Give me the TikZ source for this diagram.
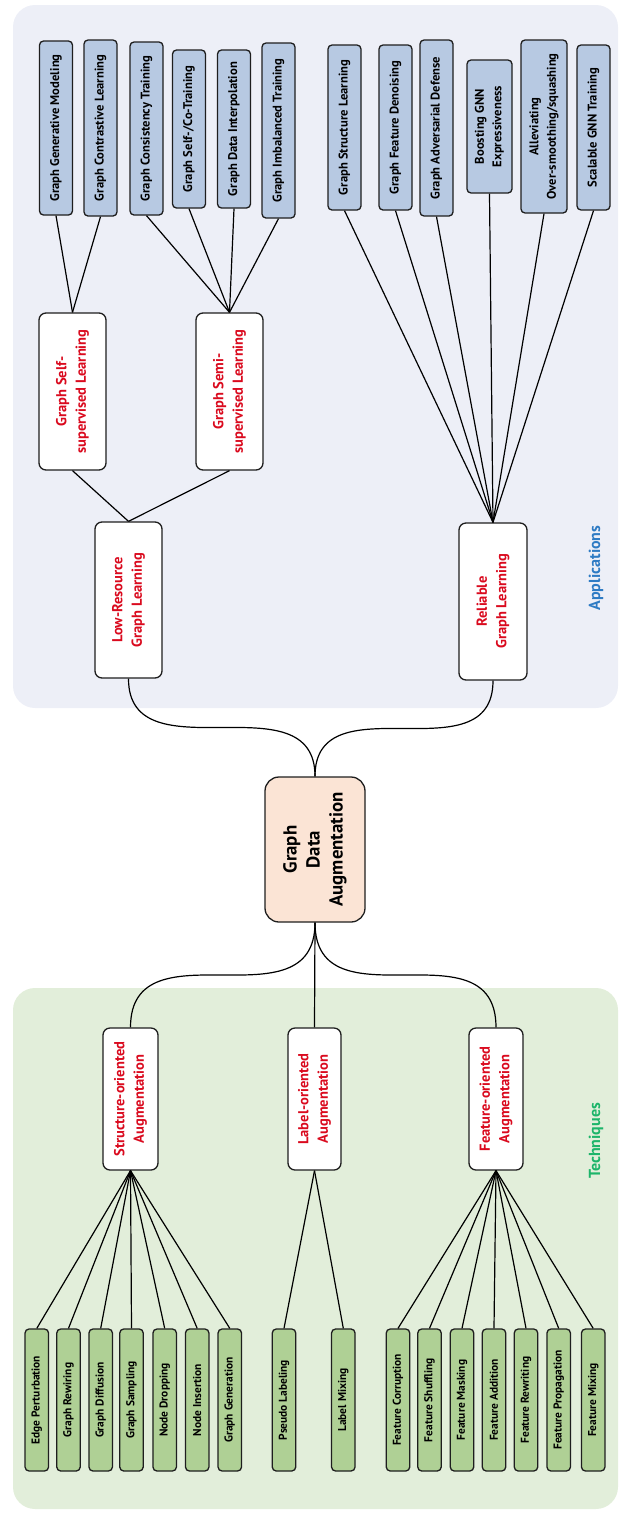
\documentclass[tikz,border=0pt]{standalone}
\usepackage{fontspec}
\setmainfont{PT Sans}
\definecolor{appbg}{HTML}{EDEFF7}
\definecolor{techbg}{HTML}{E2EEDA}
\definecolor{appfill}{HTML}{B7C9E2}
\definecolor{techfill}{HTML}{AFD095}
\definecolor{peach}{HTML}{FBE4D5}
\definecolor{midred}{HTML}{DA0A1E}
\definecolor{appblue}{HTML}{2E7BC4}
\definecolor{techgreen}{HTML}{1DB56A}
\definecolor{edge}{HTML}{1E1E1E}
\begin{document}
\begin{tikzpicture}[x=1pt,y=-1pt,
  box/.style={draw=edge, line width=1.3pt, rotate=90, align=center, inner sep=1pt},
  appleaf/.style={box, fill=appfill, rounded corners=4pt, minimum height=33pt,
    font=\fontsize{12.6}{17.5}\selectfont\bfseries},
  techleaf/.style={box, fill=techfill, rounded corners=4pt, minimum height=23.5pt,
    minimum width=142pt, font=\fontsize{11.4}{13}\selectfont\bfseries},
  midbox/.style={box, fill=white, rounded corners=7pt, text=midred,
    font=\fontsize{14.5}{19.5}\selectfont\bfseries},
  link/.style={line width=1.2pt, draw=black},
  section/.style={rotate=90, font=\fontsize{16}{18}\selectfont\bfseries}
]
\useasboundingbox (0,0) rectangle (619,1513);

% background panels
\fill[appbg, rounded corners=22pt] (13,5) rectangle (618,708);
\fill[techbg, rounded corners=22pt] (13,988) rectangle (618,1509);

% section titles
\node[section, text=appblue] (apps) at (596,568) {Applications};
\node[section, text=techgreen] (techs) at (596,1141) {Techniques};

% root
\node[box, fill=peach, rounded corners=14pt, minimum width=145pt, minimum height=100pt,
  font=\fontsize{18.8}{23}\selectfont\bfseries] (gda) at (315,849.5) {Graph\\Data\\Augmentation};

% application branches
\node[midbox, minimum width=156pt, minimum height=67pt] (lowres) at (128.5,600) {Low-Resource\\Graph Learning};
\node[midbox, minimum width=157pt, minimum height=68pt] (reliable) at (493,601.5) {Reliable\\Graph Learning};
\node[midbox, minimum width=157pt, minimum height=67pt] (selfsup) at (72.5,391.5) {Graph Self-\\supervised Learning};
\node[midbox, minimum width=157pt, minimum height=67pt] (semisup) at (229.5,391.5) {Graph Semi-\\supervised Learning};

% application leaves
\node[appleaf, minimum width=174pt] (ggm) at (56,128) {Graph Generative Modeling};
\node[appleaf, minimum width=176pt] (gcl) at (100.5,128) {Graph Contrastive Learning};
\node[appleaf, minimum width=173pt] (gct) at (146.5,128.5) {Graph Consistency Training};
\node[appleaf, minimum width=158pt] (gsct) at (189,129) {Graph Self-/Co-Training};
\node[appleaf, minimum width=158pt] (gdi) at (234,129) {Graph Data Interpolation};
\node[appleaf, minimum width=175pt] (git) at (278.5,130.5) {Graph Imbalanced Training};
\node[appleaf, minimum width=165pt] (gsl) at (344.5,127.5) {Graph Structure Learning};
\node[appleaf, minimum width=165pt] (gfd) at (395.5,127.5) {Graph Feature Denoising};
\node[appleaf, minimum width=176pt] (gad) at (436.5,128) {Graph Adversarial Defense};
\node[appleaf, minimum width=133pt, minimum height=45pt] (boost) at (489.5,126.5) {Boosting GNN\\Expressiveness};
\node[appleaf, minimum width=173pt, minimum height=46pt] (allev) at (544,126.5) {Alleviating\\Over-smoothing/squashing};
\node[appleaf, minimum width=165pt] (scal) at (593.5,127.5) {Scalable GNN Training};

% technique branches
\node[midbox, minimum width=142pt, minimum height=55pt] (struct) at (130.5,1099) {Structure-oriented\\Augmentation};
\node[midbox, minimum width=142pt, minimum height=53pt] (label) at (314.5,1099) {Label-oriented\\Augmentation};
\node[midbox, minimum width=142pt, minimum height=54pt] (feat) at (496,1099) {Feature-oriented\\Augmentation};

% technique leaves
\node[techleaf] (ep) at (36.8,1400) {Edge Perturbation};
\node[techleaf] (grw) at (68.5,1400) {Graph Rewiring};
\node[techleaf] (gdf) at (100.7,1400) {Graph Diffusion};
\node[techleaf] (gsp) at (131.5,1400) {Graph Sampling};
\node[techleaf] (ndr) at (164.7,1400) {Node Dropping};
\node[techleaf] (nin) at (197.2,1400) {Node Insertion};
\node[techleaf] (ggn) at (229.8,1400) {Graph Generation};
\node[techleaf] (psl) at (284,1400) {Pseudo Labeling};
\node[techleaf] (lmx) at (343.3,1400) {Label Mixing};
\node[techleaf] (fco) at (398,1400) {Feature Corruption};
\node[techleaf] (fsh) at (429.5,1400) {Feature Shuffling};
\node[techleaf] (fma) at (462,1400) {Feature Masking};
\node[techleaf] (fad) at (494,1400) {Feature Addition};
\node[techleaf] (frw) at (526,1400) {Feature Rewriting};
\node[techleaf] (fpr) at (558.7,1400) {Feature Propagation};
\node[techleaf] (fmx) at (593.2,1400) {Feature Mixing};

% connectors: applications side
\foreach \n in {ggm,gcl} \draw[link] (\n.west) -- (selfsup.east);
\foreach \n in {gct,gsct,gdi,git} \draw[link] (\n.west) -- (semisup.east);
\foreach \n in {gsl,gfd,gad,boost,allev,scal} \draw[link] (\n.west) -- (reliable.east);
\draw[link] (selfsup.west) -- (lowres.east);
\draw[link] (semisup.west) -- (lowres.east);
\draw[link] (lowres.west) .. controls +(0,99) and +(0,-99) .. (gda.east);
\draw[link] (reliable.west) .. controls +(0,97) and +(0,-97) .. (gda.east);

% connectors: techniques side
\draw[link] (gda.west) .. controls +(0,106) and +(0,-106) .. (struct.east);
\draw[link] (gda.west) -- (label.east);
\draw[link] (gda.west) .. controls +(0,106) and +(0,-106) .. (feat.east);
\foreach \n in {ep,grw,gdf,gsp,ndr,nin,ggn} \draw[link] (\n.east) -- (struct.west);
\foreach \n in {psl,lmx} \draw[link] (\n.east) -- (label.west);
\foreach \n in {fco,fsh,fma,fad,frw,fpr,fmx} \draw[link] (\n.east) -- (feat.west);
\end{tikzpicture}
\end{document}
